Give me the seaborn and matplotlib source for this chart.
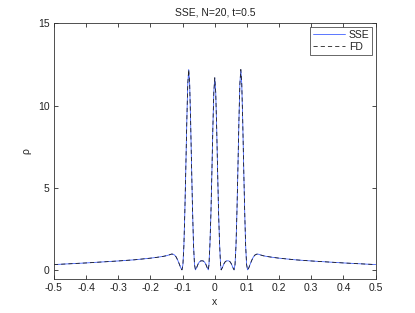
import matplotlib
matplotlib.use("Agg")
import matplotlib.pyplot as plt
import seaborn as sns
import pandas as pd

x = [-0.500, -0.450, -0.400, -0.350, -0.300, -0.250, -0.200, -0.180, -0.160, -0.150,
     -0.140, -0.134, -0.130, -0.125, -0.120, -0.115, -0.110, -0.106, -0.102, -0.099,
     -0.096, -0.093, -0.090, -0.087, -0.084, -0.081, -0.078, -0.075, -0.072, -0.069,
     -0.066, -0.063, -0.060, -0.056, -0.052, -0.048, -0.044, -0.040, -0.036, -0.032,
     -0.028, -0.024, -0.020, -0.018, -0.015, -0.012, -0.009, -0.006, -0.003, 0.000,
     0.003, 0.006, 0.009, 0.012, 0.015, 0.018, 0.020, 0.024, 0.028, 0.032,
     0.036, 0.040, 0.044, 0.048, 0.052, 0.056, 0.060, 0.063, 0.066, 0.069,
     0.072, 0.075, 0.078, 0.081, 0.084, 0.087, 0.090, 0.093, 0.096, 0.099,
     0.102, 0.106, 0.110, 0.115, 0.120, 0.125, 0.130, 0.134, 0.140, 0.150,
     0.160, 0.180, 0.200, 0.250, 0.300, 0.350, 0.400, 0.450, 0.500]

rho_sse = [0.35, 0.40, 0.45, 0.51, 0.57, 0.64, 0.74, 0.79, 0.85, 0.89,
           0.95, 0.99, 0.98, 0.93, 0.81, 0.61, 0.37, 0.16, 0.03, 0.35,
           1.5, 3.6, 6.2, 9.0, 11.3, 12.2, 11.3, 9.0, 6.2, 3.6,
           1.5, 0.35, 0.03, 0.18, 0.38, 0.51, 0.57, 0.58, 0.57, 0.51,
           0.38, 0.18, 0.03, 0.35, 1.6, 3.4, 5.9, 8.6, 10.8, 11.7,
           10.8, 8.6, 5.9, 3.4, 1.6, 0.35, 0.03, 0.18, 0.38, 0.51,
           0.57, 0.58, 0.57, 0.51, 0.38, 0.18, 0.03, 0.35, 1.5, 3.6,
           6.2, 9.0, 11.3, 12.2, 11.3, 9.0, 6.2, 3.6, 1.5, 0.35,
           0.03, 0.16, 0.37, 0.61, 0.81, 0.93, 0.98, 0.99, 0.95, 0.89,
           0.85, 0.79, 0.74, 0.64, 0.57, 0.51, 0.45, 0.40, 0.35]

rho_fd = list(rho_sse)

xticks = [-0.5, -0.4, -0.3, -0.2, -0.1, 0, 0.1, 0.2, 0.3, 0.4, 0.5]
xticklabels = ["-0.5", "-0.4", "-0.3", "-0.2", "-0.1", "0",
               "0.1", "0.2", "0.3", "0.4", "0.5"]
yticks = [0, 5, 10, 15]

sns.set_style("white")
plt.rcParams["font.family"] = ["Liberation Sans", "DejaVu Sans"]
plt.rcParams["lines.scale_dashes"] = False

fig = plt.figure(figsize=(4.15, 3.13), dpi=100)
ax = fig.add_axes([0.13, 0.11, 0.775, 0.815])

df = pd.DataFrame({"x": x, "sse": rho_sse, "fd": rho_fd})
sns.lineplot(data=df, x="x", y="sse", ax=ax, color="#4060ff", lw=0.6,
             estimator=None, sort=False, label="SSE")
sns.lineplot(data=df, x="x", y="fd", ax=ax, color="#222222", lw=0.6,
             estimator=None, sort=False, label="FD", dashes=False)
ax.lines[1].set_dashes((3.0, 2.2))

ax.set_xlim(-0.5, 0.5)
ax.set_ylim(-0.5, 15)
ax.set_xticks(xticks)
ax.set_xticklabels(xticklabels)
ax.set_yticks(yticks)
fs = 7.5
ax.tick_params(direction="in", length=3, width=0.5, labelsize=fs, color="black",
               labelcolor="#222222", top=True, right=True, bottom=True, left=True, pad=3)
for s in ax.spines.values():
    s.set_color("#333333")
    s.set_linewidth(0.6)
ax.set_xlabel("x", fontsize=fs, labelpad=3, color="#222222")
ax.set_ylabel("\u03c1", fontsize=fs, labelpad=5, color="#222222")
ax.set_title("SSE, N=20, t=0.5", fontsize=fs, pad=6, color="#222222")

leg = ax.legend(loc="upper right", fontsize=fs, frameon=True, fancybox=False,
                edgecolor="#222222", handlelength=3.0, borderpad=0.3,
                labelspacing=0.2, handletextpad=0.4, borderaxespad=0.3)
leg.get_frame().set_linewidth(0.6)
leg.get_lines()[1].set_dashes((3.0, 2.2))
for t in leg.get_texts():
    t.set_color("#222222")

fig.savefig("out.png", dpi=100)
